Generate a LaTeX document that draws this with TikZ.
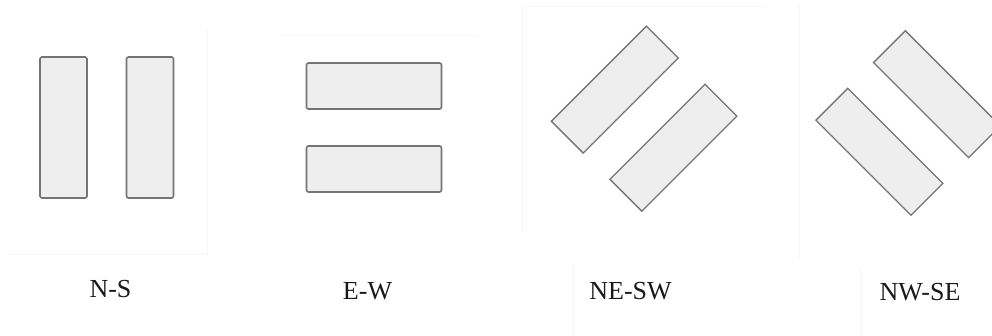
\documentclass[tikz,border=0pt]{standalone}
\usepackage{fontspec}
\setmainfont{Liberation Serif}
\definecolor{plate}{HTML}{EEEEEE}
\definecolor{edge}{HTML}{747474}
\definecolor{frame}{HTML}{F7F7F7}
\begin{document}
\begin{tikzpicture}[x=1pt,y=-1pt,
  bar/.style={draw=edge,fill=plate,line width=1.3pt,rectangle,inner sep=0pt},
  vbar/.style={bar,rounded corners=2pt,line width=1.6pt,minimum width=47pt,minimum height=141pt},
  hbar/.style={bar,rounded corners=2pt,line width=1.6pt,minimum width=135pt,minimum height=46pt},
  dbar/.style={bar,minimum width=134.5pt,minimum height=45pt},
  lab/.style={inner sep=0pt,font=\fontsize{26}{30}\selectfont,text=black!90},
  faint/.style={draw=frame,line width=1pt}]
\useasboundingbox (0,0) rectangle (992,336);
% faint panel frames
\draw[faint] (7,255) -- (207,255) -- (207,30);
\draw[faint] (281,36) -- (477,36);
\draw[faint] (522.5,233) -- (522.5,7) -- (767,7);
\draw[faint] (572,263) -- (572,336);
\draw[faint] (799,5) -- (799,258);
\draw[faint] (860,267) -- (860,336);
% N-S
\node[vbar] (ns1) at (63.5,127.5) {};
\node[vbar] (ns2) at (150,127.5) {};
% E-W
\node[hbar] (ew1) at (374,86) {};
\node[hbar] (ew2) at (374,169) {};
% NE-SW
\node[dbar,rotate=45] (nesw1) at (614.8,89.6) {};
\node[dbar,rotate=45] (nesw2) at (673.4,147.7) {};
% NW-SE
\node[dbar,rotate=-45] (nwse1) at (937,94.2) {};
\node[dbar,rotate=-45] (nwse2) at (879.4,151.8) {};
% labels
\node[lab] (lns) at (110.5,289) {N-S};
\node[lab] (lew) at (367.5,291) {E-W};
\node[lab] (lnesw) at (630.5,291) {NE-SW};
\node[lab] (lnwse) at (920,292) {NW-SE};
\end{tikzpicture}
\end{document}
